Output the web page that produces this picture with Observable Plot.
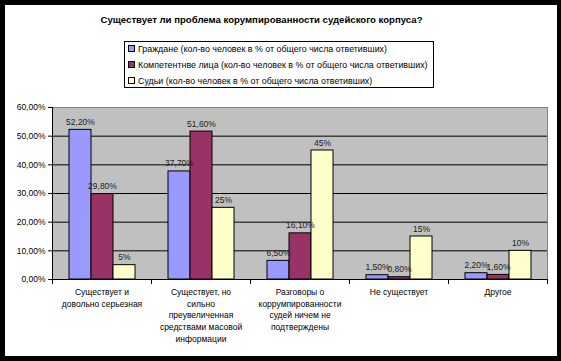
<!DOCTYPE html>
<html>
<head>
<meta charset="utf-8">
<script src="https://cdn.jsdelivr.net/npm/d3@7"></script>
<script src="https://cdn.jsdelivr.net/npm/@observablehq/plot@0.6"></script>
<style>
  html, body { margin: 0; padding: 0; background: #000; }
  #page { position: relative; width: 561px; height: 361px; background: #000; overflow: hidden; font-family: "Liberation Sans", Arial, sans-serif; }
  #inner { position: absolute; left: 5px; top: 5px; width: 552px; height: 351px; background: #fff; }
  #title { position: absolute; left: 0; top: 9px; width: 513px; text-align: center; font-weight: bold; font-size: 9.6px; color: #000; }
  #legend { position: absolute; left: 119px; top: 36px; width: 310px; height: 47px; border: 1px solid #000; box-sizing: border-box; }
  .lg { position: absolute; left: 3px; height: 12px; line-height: 12px; font-size: 8.9px; color: #000; white-space: nowrap; }
  .sw { display: inline-block; width: 5px; height: 5px; border: 1px solid #000; margin-right: 3px; vertical-align: 0px; }
  #chart { position: absolute; left: 0; top: 90px; }
</style>
</head>
<body>
<div id="page">
  <div id="inner">
    <div id="title"></div>
    <div id="legend"></div>
    <div id="chart"></div>
  </div>
</div>
<script>
const title = "Существует ли проблема корумпированности судейского корпуса?";
const categories = [
  "Существует и\nдовольно серьезная",
  "Существует, но\nсильно\nпреувеличенная\nсредствами масовой\nинформации",
  "Разговоры о\nкоррумпированности\nсудей ничем не\nподтверждены",
  "Не существует",
  "Другое"
];
const series = [
  "Граждане (кол-во человек в % от общего числа ответивших)",
  "Компетентнве лица (кол-во человек в % от общего числа ответивших)",
  "Судьи (кол-во человек в % от общего числа ответивших)"
];
const citizens = [52.2, 37.7, 6.5, 1.5, 2.2];
const competent = [29.8, 51.6, 16.1, 0.8, 1.6];
const judges = [5, 25, 45, 15, 10];
const labelDecimals = [2, 2, 0];
const colors = ["#9999FF", "#993366", "#FFFFCC"];
const yTicks = [0, 10, 20, 30, 40, 50, 60];

const values = [citizens, competent, judges];
const fmt = (v, d) => v.toFixed(d).replace(".", ",") + "%";
const rows = categories.flatMap((c, i) =>
  values.map((arr, s) => ({category: c, series: series[s], value: arr[i], label: fmt(arr[i], labelDecimals[s])}))
);

document.getElementById("title").textContent = title;
const legend = document.getElementById("legend");
series.forEach((s, i) => {
  const row = document.createElement("div");
  row.className = "lg";
  row.style.top = (1 + i * 16) + "px";
  const sw = document.createElement("span");
  sw.className = "sw";
  sw.style.background = colors[i];
  row.appendChild(sw);
  row.appendChild(document.createTextNode(s));
  legend.appendChild(row);
});

const innerH = 261 - 12 - 77;
const chart = Plot.plot({
  width: 552,
  height: 261,
  marginLeft: 46,
  marginRight: 9,
  marginTop: 12,
  marginBottom: 77,
  style: {fontFamily: "'Liberation Sans', Arial, sans-serif", fontSize: "8.5px", color: "#000", background: "transparent", overflow: "visible"},
  fx: {domain: categories, padding: 0, label: null},
  x: {domain: series, paddingInner: 0, paddingOuter: 0.72, axis: null},
  y: {domain: [0, 60], label: null},
  color: {domain: series, range: colors},
  marks: [
    Plot.frame({facet: "super", fill: "#C0C0C0", stroke: "#808080"}),
    Plot.gridY(yTicks.filter(d => d > 0 && d < 60), {stroke: "#000", strokeOpacity: 1}),
    Plot.barY(rows, {fx: "category", x: "series", y: "value", fill: "series", stroke: "#000", strokeWidth: 1}),
    Plot.text(rows, {fx: "category", x: "series", y: "value", text: "label", dy: -5, lineAnchor: "bottom", fill: "#222"}),
    Plot.frame({facet: "super", anchor: "left", stroke: "#000"}),
    Plot.frame({facet: "super", anchor: "bottom", stroke: "#000"}),
    Plot.frame({anchor: "left", stroke: "#000", insetTop: innerH, insetBottom: -4}),
    Plot.frame({anchor: "right", stroke: "#000", insetTop: innerH, insetBottom: -4}),
    Plot.axisY({ticks: yTicks, tickFormat: d => d.toFixed(2).replace(".", ",") + "%", tickSize: 4, tickPadding: 3, label: null}),
    Plot.axisFx({anchor: "bottom", tickSize: 0, tickPadding: 7, lineHeight: 1.38, label: null})
  ]
});
document.getElementById("chart").appendChild(chart);
</script>
</body>
</html>
